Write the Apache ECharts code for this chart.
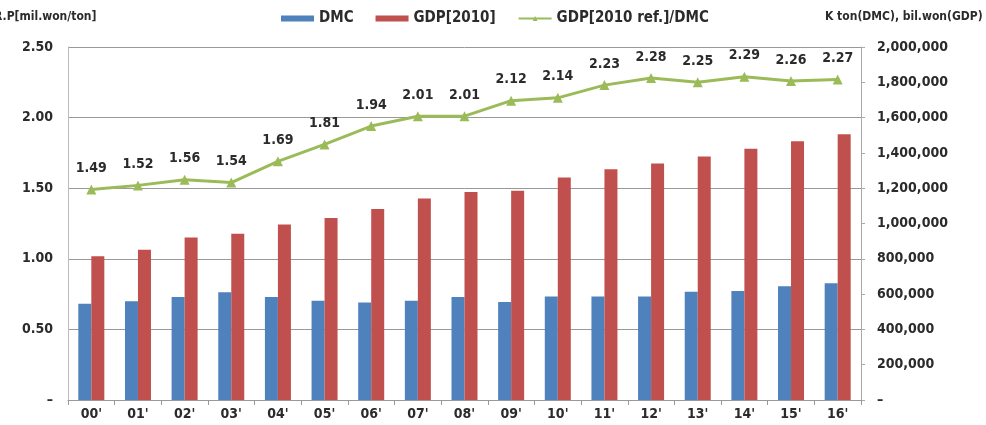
<!doctype html>
<html lang="en">
<head>
    <meta charset="UTF-8">
    <title>R.P chart</title>
    <script src="https://cdn.jsdelivr.net/npm/echarts@6/dist/echarts.min.js"></script>
    <style>
        html, body { margin: 0; padding: 0; background: #fff; }
        #chart { width: 986px; height: 425px; }
    </style>
</head>
<body>
<div id="chart"></div>
<script type="text/javascript">
    // 데이터
    var years = ["00'", "01'", "02'", "03'", "04'", "05'", "06'", "07'", "08'", "09'", "10'", "11'", "12'", "13'", "14'", "15'", "16'"];
    var dmc = [545000, 559000, 584000, 610000, 584000, 563000, 552000, 563000, 584000, 555000, 587000, 587000, 587000, 613000, 617000, 644000, 662000];
    var gdp = [815000, 851000, 920000, 942000, 995000, 1031000, 1082000, 1141000, 1179000, 1185000, 1261000, 1308000, 1340000, 1380000, 1423000, 1466000, 1506000];
    var ratio = [1.49, 1.52, 1.56, 1.54, 1.69, 1.81, 1.94, 2.01, 2.01, 2.12, 2.14, 2.23, 2.28, 2.25, 2.29, 2.26, 2.27];

    var font = "'DejaVu Sans Condensed', 'Liberation Sans', sans-serif";
    var txt = '#2b2b2b';

    var fmtComma = function (v) {
        if (v === 0) return '–';
        return v.toString().replace(/\B(?=(\d{3})+(?!\d))/g, ',');
    };

    var myChart = echarts.init(document.getElementById('chart'));
    var option = {
        animation: false,
        textStyle: { fontFamily: font },
        legend: {
            top: 6,
            left: 276,
            itemGap: 22,
            itemWidth: 33,
            itemHeight: 6,
            textStyle: { fontFamily: font, fontSize: 15, fontWeight: 'bold', color: txt },
            data: [
                { name: 'DMC', icon: 'rect' },
                { name: 'GDP[2010]', icon: 'rect' },
                { name: 'GDP[2010 ref.]/DMC' }
            ]
        },
        graphic: [
            { type: 'text', x: -6, y: 11, style: { text: 'R.P[mil.won/ton]', font: 'bold 12px ' + font, fill: txt } },
            { type: 'text', x: 825, y: 11, style: { text: 'K ton(DMC), bil.won(GDP)', font: 'bold 12px ' + font, fill: txt } }
        ],
        grid: { left: 68, right: 125, top: 47, bottom: 25 },
        xAxis: {
            type: 'category',
            data: years,
            axisLine: { lineStyle: { color: '#999' } },
            axisTick: { show: true, length: 5, lineStyle: { color: '#999' } },
            axisLabel: { fontFamily: font, fontSize: 14, fontWeight: 'bold', color: txt, margin: 7 }
        },
        yAxis: [
            {
                type: 'value', min: 0, max: 2.5, interval: 0.5,
                axisLine: { show: true, lineStyle: { color: '#bbb' } },
                axisTick: { show: false },
                splitLine: { lineStyle: { color: '#999' } },
                axisLabel: {
                    fontFamily: font, fontSize: 14, fontWeight: 'bold', color: txt, margin: 15,
                    formatter: function (v) { return v === 0 ? '–' : v.toFixed(2); }
                }
            },
            {
                type: 'value', min: 0, max: 2000000, interval: 200000,
                axisLine: { show: true, lineStyle: { color: '#aaa' } },
                axisTick: { show: true, length: 4, lineStyle: { color: '#aaa' } },
                splitLine: { show: false },
                axisLabel: { fontFamily: font, fontSize: 14, fontWeight: 'bold', color: txt, margin: 16, formatter: fmtComma }
            }
        ],
        series: [
            {
                name: 'DMC', type: 'bar', yAxisIndex: 1, data: dmc,
                barWidth: 13, barGap: '0%',
                itemStyle: { color: '#4F81BD' }
            },
            {
                name: 'GDP[2010]', type: 'bar', yAxisIndex: 1, data: gdp,
                barWidth: 13, barGap: '0%',
                itemStyle: { color: '#C0504D' }
            },
            {
                name: 'GDP[2010 ref.]/DMC', type: 'line', yAxisIndex: 0, data: ratio,
                symbol: 'triangle', symbolSize: 10,
                lineStyle: { color: '#9BBB59', width: 3 },
                itemStyle: { color: '#9BBB59' },
                label: {
                    show: true, position: 'top', distance: 9,
                    fontFamily: font, fontSize: 14, fontWeight: 'bold', color: txt,
                    formatter: function (p) { return p.value.toFixed(2); }
                }
            }
        ]
    };
    myChart.setOption(option);
</script>
</body>
</html>
